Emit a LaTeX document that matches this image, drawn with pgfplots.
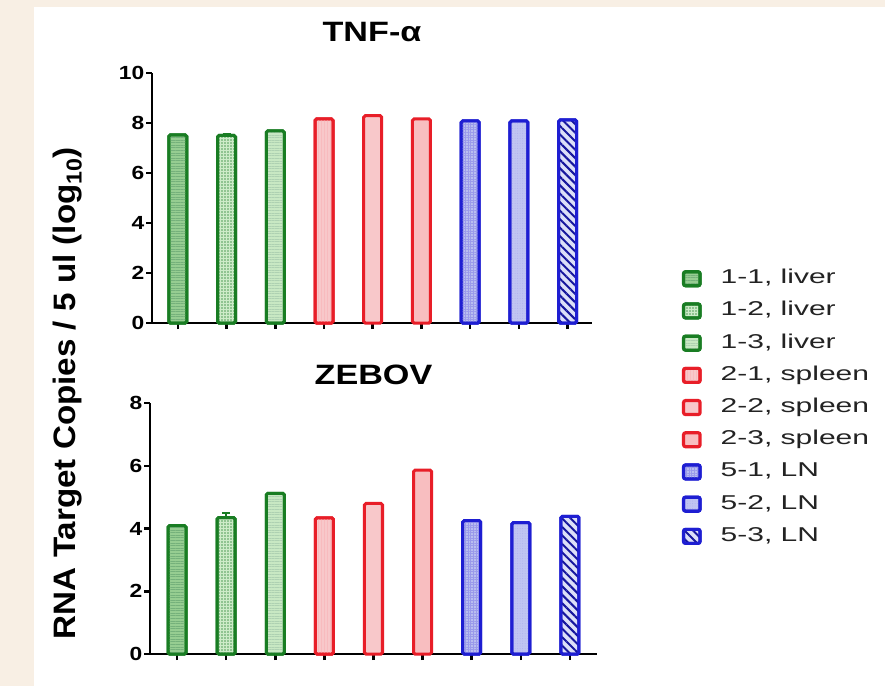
\documentclass[border=0pt]{standalone}
\usepackage{fontspec}
\setmainfont{Liberation Sans}
\usepackage{pgfplots}
\pgfplotsset{compat=1.18}
\usetikzlibrary{patterns.meta}
\definecolor{bg}{RGB}{248,239,228}
\definecolor{gB}{RGB}{25,125,35}
\definecolor{gF1}{RGB}{150,205,145}
\definecolor{gF2}{RGB}{205,235,200}
\definecolor{gF3}{RGB}{200,232,195}
\definecolor{rB}{RGB}{232,30,40}
\definecolor{rF}{RGB}{248,200,202}
\definecolor{bB}{RGB}{30,30,210}
\definecolor{bF}{RGB}{185,190,240}
\definecolor{txt}{RGB}{35,35,35}
\newcommand\sx[2]{\scalebox{#1}[1]{#2}}
\pgfplotsset{
  mybar/.style={line width=3pt, rounded corners=1.5pt,
    legend image code/.code={\draw[##1, line width=3.2pt, rounded corners=2pt] (0.5pt,-7pt) rectangle (17pt,7pt);}},
  b1/.style={mybar, draw=gB, preaction={fill=gF1}, pattern={Lines[angle=0,distance=2.6pt,line width=0.7pt]}, pattern color=gB!60},
  b2/.style={mybar, draw=gB, preaction={fill=gF2}, pattern={Dots[distance=3pt,radius=0.8pt]}, pattern color=gB!75},
  b3/.style={mybar, draw=gB, preaction={fill=gF3}, pattern={Lines[angle=0,distance=2.6pt,line width=0.5pt]}, pattern color=gB!35},
  b4/.style={mybar, draw=rB, preaction={fill=rF}, pattern={Lines[angle=90,distance=3pt,line width=0.4pt]}, pattern color=rB!30},
  b5/.style={mybar, draw=rB, fill=rF},
  b6/.style={mybar, draw=rB, fill=rF!95!red},
  b7/.style={mybar, draw=bB, preaction={fill=bF}, pattern={Hatch[angle=0,distance=2.6pt,line width=0.4pt]}, pattern color=bB!45},
  b8/.style={mybar, draw=bB, preaction={fill=bF!90!white}, pattern={Dots[distance=2.5pt,radius=0.5pt]}, pattern color=bB!35},
  b9/.style={mybar, draw=bB, preaction={fill=bF!50!white}, pattern={Lines[angle=-45,distance=6pt,line width=2pt]}, pattern color=bB!75!black},
  common/.style={scale only axis, anchor=south west, clip=false,
    ybar, bar width=18pt, bar shift=0pt,
    axis x line*=bottom, axis y line*=left,
    axis line style={line width=2.7pt, black, -},
    xtick={1,...,9}, xticklabels={},
    tick align=outside, major tick length=6pt,
    tick style={line width=2.5pt, black},
    tick label style={font=\fontsize{19}{19}\selectfont\bfseries},
    yticklabel style={inner sep=1.5pt},
    title style={font=\fontsize{28}{28}\selectfont\bfseries, anchor=south, at={(0.5,1)}},
  },
}
\begin{document}
\begin{tikzpicture}
\fill[bg] (0,0) rectangle (885pt,686pt);
\fill[white] (34pt,0) rectangle (885pt,679pt);

\begin{axis}[common, at={(152pt,363pt)}, width=440pt, height=250pt,
  xmin=0.47, xmax=9.5, ymin=0, ymax=10,
  ytick={0,2,4,6,8,10},
  yticklabels={\sx{1.2}{0},\sx{1.2}{2},\sx{1.2}{4},\sx{1.2}{6},\sx{1.2}{8},\sx{1.2}{10}},
  title={\sx{1.22}{TNF-α}}, title style={yshift=22pt},
  legend style={draw=none, fill=none, at={(axis description cs:1.2045,0.213)}, anchor=north west,
    inner sep=0pt, outer sep=0pt, row sep=14.2pt,
    font=\fontsize{20}{20}\selectfont\color{txt},
    nodes={inner sep=0pt, text height=14pt, text depth=4pt, anchor=west},
    /tikz/every odd column/.append style={column sep=19pt}},
]
\addplot[b1] coordinates {(1,7.52)}; \addlegendentry{\sx{1.5}{1-1, liver}}
\addplot[b2, error bars/.cd, y dir=plus, y explicit,
  error bar style={line width=2pt, draw=gB}, error mark options={rotate=90, mark size=4pt, line width=2pt, draw=gB}]
  coordinates {(2,7.50) +- (0,0.07)}; \addlegendentry{\sx{1.5}{1-2, liver}}
\addplot[b3] coordinates {(3,7.68)}; \addlegendentry{\sx{1.5}{1-3, liver}}
\addplot[b4] coordinates {(4,8.16)}; \addlegendentry{\sx{1.5}{2-1, spleen}}
\addplot[b5] coordinates {(5,8.29)}; \addlegendentry{\sx{1.5}{2-2, spleen}}
\addplot[b6] coordinates {(6,8.16)}; \addlegendentry{\sx{1.5}{2-3, spleen}}
\addplot[b7] coordinates {(7,8.08)}; \addlegendentry{\sx{1.5}{5-1, LN}}
\addplot[b8] coordinates {(8,8.08)}; \addlegendentry{\sx{1.5}{5-2, LN}}
\addplot[b9] coordinates {(9,8.12)}; \addlegendentry{\sx{1.5}{5-3, LN}}
\end{axis}

\begin{axis}[common, at={(150pt,32pt)}, width=447pt, height=251pt,
  xmin=0.45, xmax=9.55, ymin=0, ymax=8,
  ytick={0,2,4,6,8},
  yticklabels={\sx{1.2}{0},\sx{1.2}{2},\sx{1.2}{4},\sx{1.2}{6},\sx{1.2}{8}},
  title={\sx{1.22}{ZEBOV}}, title style={yshift=9pt},
]
\addplot[b1] coordinates {(1,4.09)};
\addplot[b2, error bars/.cd, y dir=plus, y explicit,
  error bar style={line width=2pt, draw=gB}, error mark options={rotate=90, mark size=4pt, line width=2pt, draw=gB}]
  coordinates {(2,4.35) +- (0,0.14)};
\addplot[b3] coordinates {(3,5.12)};
\addplot[b4] coordinates {(4,4.34)};
\addplot[b5] coordinates {(5,4.80)};
\addplot[b6] coordinates {(6,5.86)};
\addplot[b7] coordinates {(7,4.25)};
\addplot[b8] coordinates {(8,4.19)};
\addplot[b9] coordinates {(9,4.39)};
\end{axis}

\node[rotate=90, anchor=base, font=\fontsize{31}{31}\selectfont\bfseries] at (75pt,293pt)
  {\sx{1.07}{RNA Target Copies / 5 ul (log\textsubscript{10})}};

\pgfresetboundingbox
\path (0,0) rectangle (885pt,686pt);
\end{tikzpicture}
\end{document}
